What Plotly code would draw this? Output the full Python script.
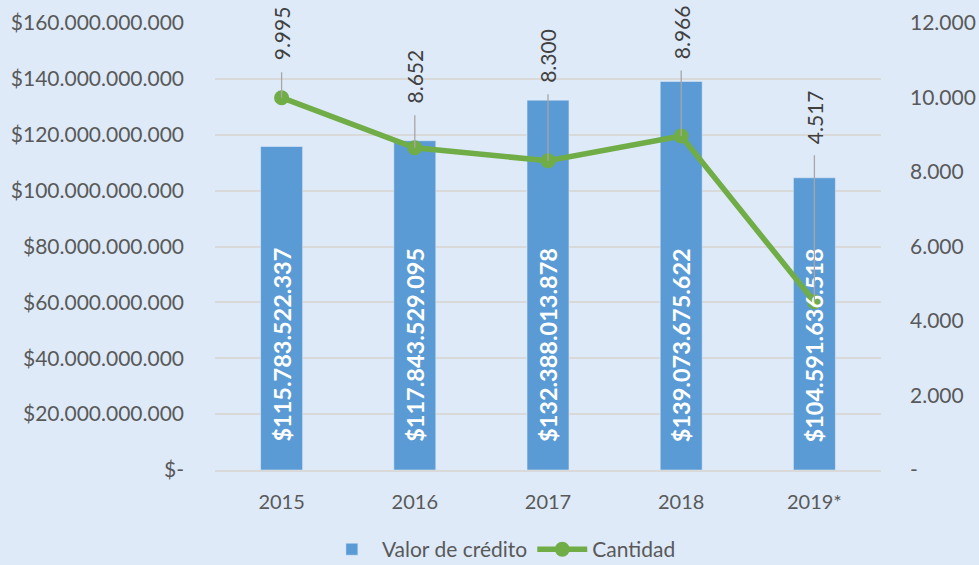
import plotly.graph_objects as go

# ---- data ----
years = ["2015", "2016", "2017", "2018", "2019*"]
valor_credito = [115783522337, 117843529095, 132388013878, 139073675622, 104591636518]
cantidad = [9995, 8652, 8300, 8966, 4517]
left_ticks = [0, 20e9, 40e9, 60e9, 80e9, 100e9, 120e9, 140e9, 160e9]
right_ticks = [0, 2000, 4000, 6000, 8000, 10000, 12000]

# ---- style ----
label_offsets = [-64, -71, -105, -104, -185]   # pixel offset of Cantidad labels
BG = "#DEEAF8"
BAR = "#5B9BD5"
LINE = "#70AD47"
TXT = "#595959"
FONT = "Lato"


def fmt_thousands(v):
    return f"{int(v):,}".replace(",", ".")


left_text = ["$-" if v == 0 else "$" + fmt_thousands(v) for v in left_ticks]
right_text = ["-" if v == 0 else fmt_thousands(v) for v in right_ticks]

fig = go.Figure()
fig.add_trace(go.Bar(
    x=years, y=valor_credito, name="Valor de crédito",
    marker=dict(color=BAR), width=0.315,
    hoverinfo="skip",
))
fig.add_trace(go.Scatter(
    x=years, y=cantidad, name="Cantidad", yaxis="y2",
    mode="lines+markers",
    line=dict(color=LINE, width=5.5),
    marker=dict(color=LINE, size=15),
))

annotations = []
for i, v in enumerate(valor_credito):
    annotations.append(dict(
        x=i, y=0, xref="x", yref="y", text="$" + fmt_thousands(v),
        textangle=-90, showarrow=False, yanchor="bottom", yshift=26,
        font=dict(family=FONT, size=23.5, color="white", weight="bold"),
    ))
for i, (c, off) in enumerate(zip(cantidad, label_offsets)):
    annotations.append(dict(
        x=i, y=c, xref="x", yref="y2", text=fmt_thousands(c),
        textangle=-90, showarrow=True, ax=0, ay=off,
        arrowhead=0, arrowwidth=1.3, arrowcolor="#A6A6A6",
        startstandoff=10, standoff=0,
        font=dict(family=FONT, size=21, color="#404040"),
    ))

fig.update_layout(
    width=979, height=565,
    margin=dict(l=215, r=98, t=23, b=95, autoexpand=False),
    paper_bgcolor=BG, plot_bgcolor=BG,
    font=dict(family=FONT, size=20, color=TXT),
    showlegend=True,
    legend=dict(orientation="h", x=0.43, xanchor="center", y=-0.178, yanchor="middle",
                font=dict(size=21, color=TXT), bgcolor="rgba(0,0,0,0)",
                itemwidth=50, traceorder="normal"),
    xaxis=dict(type="category", range=[-0.5, len(years) - 0.5], showgrid=False,
               showline=True, linecolor="#D9D9D9", automargin=False,
               linewidth=1.5, ticks="", ticklabelstandoff=13,
               tickfont=dict(size=20, color=TXT)),
    yaxis=dict(range=[0, 160e9], tickvals=left_ticks, ticktext=left_text,
               showgrid=True, gridcolor="#D9D9D9", gridwidth=1.5, zeroline=False,
               showline=False, ticks="", ticklabelstandoff=30, automargin=False,
               tickfont=dict(size=21, color=TXT)),
    yaxis2=dict(range=[0, 12000], tickvals=right_ticks, ticktext=right_text,
                overlaying="y", side="right", showgrid=False, zeroline=False,
                showline=False, ticks="", ticklabelstandoff=28, automargin=False,
                tickfont=dict(size=21, color=TXT)),
    annotations=annotations,
    bargap=0.6,
)

fig.write_html("out.html")
